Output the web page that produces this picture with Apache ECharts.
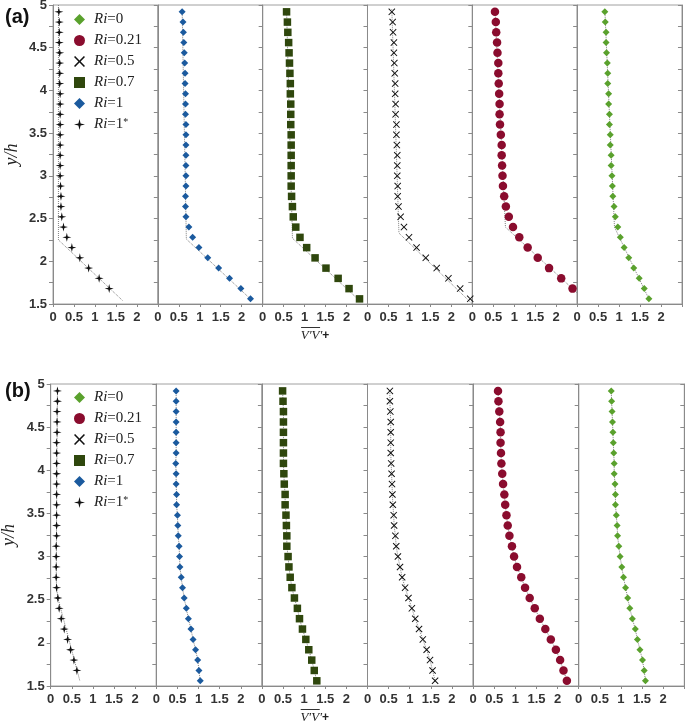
<!DOCTYPE html>
<html><head><meta charset="utf-8">
<script src="https://cdn.jsdelivr.net/npm/echarts@6/dist/echarts.min.js"></script>
<style>html,body{margin:0;padding:0;background:#fff}#c{width:685px;height:721px}</style>
</head><body><div id="c"></div>
<script>
// ---------- data ----------
const yLevels = [4.92,4.80,4.68,4.56,4.44,4.32,4.20,4.08,3.96,3.84,3.72,3.60,3.48,3.36,3.24,3.12,3.00,2.88,2.76,2.64,2.52,2.40,2.28,2.16,2.04,1.92,1.80,1.68,1.56];
const subplotNames = ['Ri=1*','Ri=1','Ri=0.7','Ri=0.5','Ri=0.21','Ri=0'];
const legendOrder = ['Ri=0','Ri=0.21','Ri=0.5','Ri=0.7','Ri=1','Ri=1*'];
const xTickLabels = [0,0.5,1,1.5,2];
const yTickLabels = [1.5,2,2.5,3,3.5,4,4.5,5];

// panel (a): x value at each y level (null = no marker)
const aRi1s  = [0.14,0.15,0.15,0.15,0.16,0.16,0.16,0.16,0.17,0.17,0.17,0.17,0.17,0.17,0.17,0.17,0.17,0.18,0.19,0.19,0.21,0.25,0.33,0.45,0.64,0.85,1.10,1.34,null];
const aRi1   = [0.58,0.60,0.61,0.62,0.63,0.64,0.65,0.65,0.66,0.66,0.66,0.67,0.67,0.67,0.67,0.67,0.67,0.67,0.66,0.66,0.67,0.74,0.83,0.98,1.19,1.45,1.71,1.98,2.21];
const aRi07  = [0.57,0.59,0.60,0.62,0.63,0.64,0.65,0.66,0.66,0.67,0.67,0.67,0.68,0.68,0.68,0.68,0.68,0.68,0.69,0.71,0.73,0.79,0.89,1.05,1.25,1.51,1.80,2.06,2.31];
const aRi05  = [0.58,0.60,0.61,0.63,0.63,0.64,0.65,0.66,0.66,0.67,0.67,0.69,0.69,0.70,0.71,0.71,0.71,0.72,0.72,0.74,0.79,0.87,0.99,1.17,1.39,1.65,1.93,2.21,2.45];
const aRi021 = [0.54,0.56,0.57,0.59,0.60,0.62,0.62,0.63,0.64,0.65,0.65,0.66,0.68,0.70,0.70,0.71,0.72,0.73,0.76,0.80,0.87,0.97,1.12,1.32,1.56,1.83,2.12,2.39,null];
const aRi0   = [0.66,0.67,0.69,0.69,0.70,0.72,0.73,0.73,0.75,0.75,0.77,0.77,0.79,0.79,0.81,0.81,0.83,0.84,0.85,0.88,0.91,0.97,1.03,1.12,1.23,1.35,1.48,1.60,1.71];
// panel (a) dotted fit lines (x list, y list)
const aFitRi1sX  = [0.13,0.13,1.66],  aFitRi1sY  = [5.00,2.25,1.54];
const aFitRi1X   = [0.58,0.68,2.25],  aFitRi1Y   = [4.95,2.26,1.54];
const aFitRi07X  = [0.57,0.71,2.33],  aFitRi07Y  = [4.95,2.27,1.53];
const aFitRi05X  = [0.58,0.75,2.50],  aFitRi05Y  = [4.95,2.33,1.50];
const aFitRi021X = [0.54,0.79,2.50],  aFitRi021Y = [4.95,2.40,1.63];
const aFitRi0X   = [0.66,0.89,1.72],  aFitRi0Y   = [4.95,2.40,1.55];

// panel (b)
const bRi1s  = [0.16,0.16,0.15,0.15,0.15,0.14,0.14,0.14,0.14,0.14,0.14,0.14,0.14,0.14,0.14,0.13,0.13,0.13,0.13,0.14,0.17,0.20,0.25,0.32,0.40,0.47,0.55,0.62,null];
const bRi1   = [0.47,0.47,0.47,0.47,0.47,0.47,0.47,0.46,0.47,0.47,0.48,0.48,0.50,0.51,0.52,0.54,0.55,0.56,0.59,0.62,0.66,0.71,0.76,0.82,0.87,0.93,0.98,1.01,1.04];
const bRi07  = [0.49,0.50,0.51,0.51,0.51,0.51,0.51,0.51,0.52,0.53,0.55,0.55,0.57,0.58,0.59,0.59,0.62,0.64,0.67,0.71,0.77,0.84,0.89,0.96,1.04,1.11,1.18,1.24,1.30];
const bRi05  = [0.53,0.53,0.54,0.55,0.55,0.55,0.55,0.56,0.57,0.58,0.59,0.60,0.62,0.63,0.66,0.68,0.72,0.77,0.82,0.89,0.97,1.05,1.13,1.22,1.31,1.40,1.48,1.54,1.60];
const bRi021 = [0.59,0.60,0.62,0.64,0.65,0.65,0.66,0.67,0.69,0.71,0.74,0.76,0.79,0.82,0.86,0.92,0.97,1.04,1.14,1.23,1.34,1.46,1.58,1.71,1.84,1.96,2.06,2.14,2.22];
const bRi0   = [0.77,0.78,0.79,0.80,0.81,0.82,0.83,0.84,0.84,0.86,0.87,0.87,0.89,0.91,0.92,0.95,0.98,1.02,1.06,1.11,1.16,1.21,1.27,1.34,1.39,1.45,1.51,1.55,1.58];
// panel (b) dotted fit line for Ri=1* (others follow their markers)
const bFitRi1sX = [0.16,0.13,0.14,0.17,0.69], bFitRi1sY = [4.95,2.76,2.64,2.52,1.56];

// ---------- styles / layout ----------
const XPATH = 'path://M1,0L5,4L9,0L10,1L6,5L10,9L9,10L5,6L1,10L0,9L4,5L0,1Z';
const STARPATH = 'path://M5,0L6,4L10,5L6,6L5,10L4,6L0,5L4,4Z';
const mk = {
  'Ri=1*':  {symbol: STARPATH, color: '#111111', size: 9},
  'Ri=1':   {symbol: 'diamond', color: '#1b5a9e', size: 7},
  'Ri=0.7': {symbol: 'rect', color: '#2f470d', size: 7.5},
  'Ri=0.5': {symbol: XPATH, color: '#111111', size: 7},
  'Ri=0.21':{symbol: 'circle', color: '#8a0c2e', size: 8.5},
  'Ri=0':   {symbol: 'diamond', color: '#5aa12d', size: 7}
};
const panels = [
  {label: '(a)', left: 53, top: 5, width: 104.83, height: 299, labelTop: 2, legendTop: 7,
   data: [aRi1s, aRi1, aRi07, aRi05, aRi021, aRi0],
   fits: [[aFitRi1sX,aFitRi1sY],[aFitRi1X,aFitRi1Y],[aFitRi07X,aFitRi07Y],[aFitRi05X,aFitRi05Y],[aFitRi021X,aFitRi021Y],[aFitRi0X,aFitRi0Y]]},
  {label: '(b)', left: 50.7, top: 384, width: 105.6, height: 302, labelTop: 376, legendTop: 385,
   data: [bRi1s, bRi1, bRi07, bRi05, bRi021, bRi0],
   fits: [[bFitRi1sX,bFitRi1sY], null, null, null, null, null]}
];

const grid = [], xAxis = [], yAxis = [], series = [], title = [], legend = [];
const labelStyle = {fontFamily: 'Liberation Sans', fontWeight: 'bold', fontSize: 13, color: '#333'};
const axisGray = '#8a8a8a';

panels.forEach((P, p) => {
  title.push({text: P.label, left: 0, top: P.labelTop,
    textStyle: {fontFamily: 'Liberation Sans', fontWeight: 'bold', fontSize: 20, color: '#111'}});
  legend.push({
    data: legendOrder, orient: 'vertical', left: 69, top: P.legendTop,
    itemWidth: 11, itemHeight: 11, itemGap: 6, selectedMode: false,
    formatter: n => {
      const v = n.split('=')[1];
      if (v.endsWith('*')) return '{i|Ri}{n|=' + v.slice(0, -1) + '}{s|*}';
      return '{i|Ri}{n|=' + v + '}';
    },
    textStyle: {fontFamily: 'Liberation Serif', fontSize: 15, color: '#222',
      rich: {
        i: {fontFamily: 'Liberation Serif', fontStyle: 'italic', fontSize: 15, color: '#222', padding: [0,0,0,4]},
        n: {fontFamily: 'Liberation Serif', fontSize: 15, color: '#222'},
        s: {fontFamily: 'Liberation Serif', fontSize: 10, color: '#222', verticalAlign: 'top'}
      }}
  });
  for (let i = 0; i < 6; i++) {
    const gi = p * 6 + i;
    grid.push({left: P.left + i * P.width, top: P.top, width: P.width, height: P.height,
      outerBoundsMode: 'none', containLabel: false,
      show: true, borderColor: '#a0a0a0', borderWidth: 1, backgroundColor: 'transparent'});
    const xa = {
      gridIndex: gi, type: 'value', min: 0, max: 2.5, interval: 0.5,
      axisLine: {show: true, lineStyle: {color: axisGray}},
      axisTick: {show: true, length: 3, lineStyle: {color: axisGray}},
      axisLabel: Object.assign({margin: 7, showMaxLabel: true,
        formatter: v => (xTickLabels.indexOf(v) >= 0 ? String(v) : '')}, labelStyle),
      splitLine: {show: false}
    };
    if (i === 2) {
      xa.name = '{bar| }{sp| }\n{t|V′V′}{p|+}';
      xa.nameLocation = 'middle';
      xa.nameGap = 22;
      xa.nameTextStyle = {rich: {
        bar: {width: 19, height: 1, backgroundColor: '#333', fontSize: 1, lineHeight: 3},
        sp: {width: 9, height: 1, fontSize: 1, lineHeight: 3},
        t: {fontFamily: 'Liberation Serif', fontStyle: 'italic', fontSize: 13, color: '#222', lineHeight: 13},
        p: {fontFamily: 'Liberation Sans', fontWeight: 'bold', fontSize: 12, color: '#222', lineHeight: 13}
      }};
    }
    xAxis.push(xa);
    const ya = {
      gridIndex: gi, type: 'value', min: 1.5, max: 5, interval: 0.25,
      axisLine: {show: true, lineStyle: {color: axisGray}},
      axisTick: {show: true, length: 4, lineStyle: {color: axisGray}},
      axisLabel: Object.assign({show: i === 0, margin: 6,
        formatter: v => (yTickLabels.some(t => Math.abs(t - v) < 1e-9) ? String(v) : '')}, labelStyle),
      splitLine: {show: false}
    };
    if (i === 0) {
      ya.name = 'y/h';
      ya.nameLocation = 'middle';
      ya.nameRotate = 90;
      ya.nameGap = 32;
      ya.nameTextStyle = {fontFamily: 'Liberation Serif', fontStyle: 'italic', fontSize: 18, color: '#222'};
    }
    yAxis.push(ya);

    const name = subplotNames[i];
    const xs = P.data[i];
    const pts = [];
    xs.forEach((x, k) => { if (x !== null) pts.push([x, yLevels[k]]); });
    const fit = P.fits[i];
    const fitPts = fit ? fit[0].map((x, k) => [x, fit[1][k]]) : pts;
    series.push({
      type: 'line', name: 'fit-' + gi, xAxisIndex: gi, yAxisIndex: gi,
      data: fitPts, showSymbol: false, symbol: 'none', silent: true, z: 1,
      lineStyle: {color: '#808080', width: 1, type: 'dotted'}
    });
    series.push({
      type: 'scatter', name: name, xAxisIndex: gi, yAxisIndex: gi,
      data: pts, symbol: mk[name].symbol, symbolSize: mk[name].size, z: 3,
      itemStyle: {color: mk[name].color, opacity: 1}
    });
  }
});
// right-hand border ticks of each panel
[0, 1].forEach(p => {
  yAxis.push({gridIndex: p * 6 + 5, type: 'value', min: 1.5, max: 5, interval: 0.25, position: 'right',
    axisLine: {show: true, lineStyle: {color: axisGray}},
    axisTick: {show: true, inside: true, length: 4, lineStyle: {color: axisGray}},
    axisLabel: {show: false}, splitLine: {show: false}});
});

const chart = echarts.init(document.getElementById('c'), null, {renderer: 'canvas'});
chart.setOption({
  animation: false, backgroundColor: '#ffffff',
  title, legend, grid, xAxis, yAxis, series
});
</script></body></html>
